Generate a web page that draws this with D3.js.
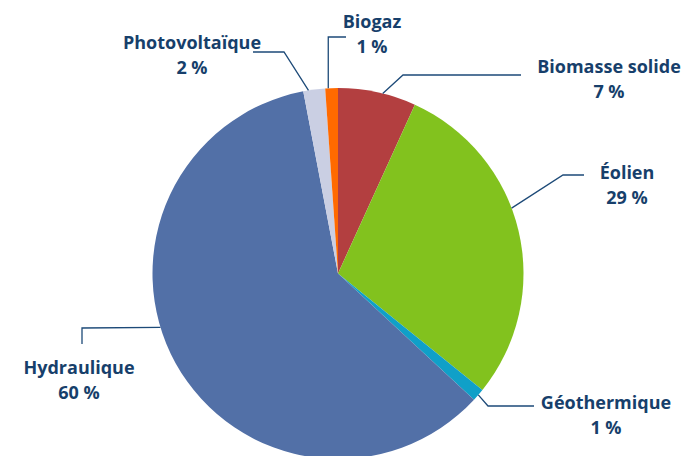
<html>
<head>
<meta charset="utf-8">
<script src="https://d3js.org/d3.v7.min.js"></script>
<style>
  body { margin: 0; background: #fff; }
  text { font-family: "Open Sans", "Noto Sans", sans-serif; font-weight: 700; }
</style>
</head>
<body>
<script>
// données (parts en %)
var sources = ["Biomasse solide", "Éolien", "Géothermique", "Hydraulique", "Photovoltaïque", "Biogaz"];
var parts = [6.8, 29.0, 1.1, 60.1, 1.9, 1.1];
var etiquettes = ["7 %", "29 %", "1 %", "60 %", "2 %", "1 %"];
var couleurs = ["#b33f40", "#82c21e", "#10a0c8", "#5270a7", "#cacfe3", "#ff6a00"];

// mise en page des étiquettes : point sur l'arc (t), coude, fin, texte
var placement = [
  { t: 0.57, coude: [403, 75], fin: [521, 75], tx: 609, ty: 73 },
  { t: 0.43, coude: [563, 175], fin: [584, 175], tx: 627, ty: 179 },
  { t: 0.5, coude: [488, 406], fin: [534, 406], tx: 606, ty: 409 },
  { t: 0.556, coude: [82, 328], fin: [82, 344], tx: 79, ty: 374 },
  { t: 0.24, coude: [284, 52], fin: [253, 52], tx: 192, ty: 49 },
  { t: 0.24, coude: null, fin: [346, 37], tx: 372, ty: 28 }
];

var largeur = 686, hauteur = 456;
var cx = 338, cy = 273.5, rayon = 185.5;

var svg = d3.select("body").append("svg")
  .attr("width", largeur)
  .attr("height", hauteur);

var donnees = sources.map(function (s, i) {
  return { nom: s, valeur: parts[i], etiquette: etiquettes[i], couleur: couleurs[i], pos: placement[i] };
});

var camembert = d3.pie().sort(null).value(d => d.valeur);
var arc = d3.arc().innerRadius(0).outerRadius(rayon);

var g = svg.append("g").attr("transform", "translate(" + cx + "," + cy + ")");

var tranches = camembert(donnees);

g.selectAll("path")
  .data(tranches)
  .enter()
  .append("path")
  .attr("d", arc)
  .attr("fill", d => d.data.couleur);

// lignes de rappel
var couleurTexte = "#173f6b";
var ligne = d3.line();

tranches.forEach(function (d) {
  var p = d.data.pos;
  var a = d.startAngle + (d.endAngle - d.startAngle) * p.t;
  var depart = [cx + rayon * Math.sin(a), cy - rayon * Math.cos(a)];
  var points = [depart];
  if (p.coude) {
    points.push(p.coude);
  } else {
    points.push([depart[0], p.fin[1]]);
  }
  points.push(p.fin);
  svg.append("path")
    .attr("d", ligne(points))
    .attr("fill", "none")
    .attr("stroke", "#1d4a78")
    .attr("stroke-width", 1.3);

  var t = svg.append("text")
    .attr("x", p.tx)
    .attr("y", p.ty)
    .attr("text-anchor", "middle")
    .attr("fill", couleurTexte)
    .style("font-size", "18px");
  t.append("tspan").attr("x", p.tx).text(d.data.nom);
  t.append("tspan").attr("x", p.tx).attr("dy", 24.5).text(d.data.etiquette);
});
</script>
</body>
</html>
